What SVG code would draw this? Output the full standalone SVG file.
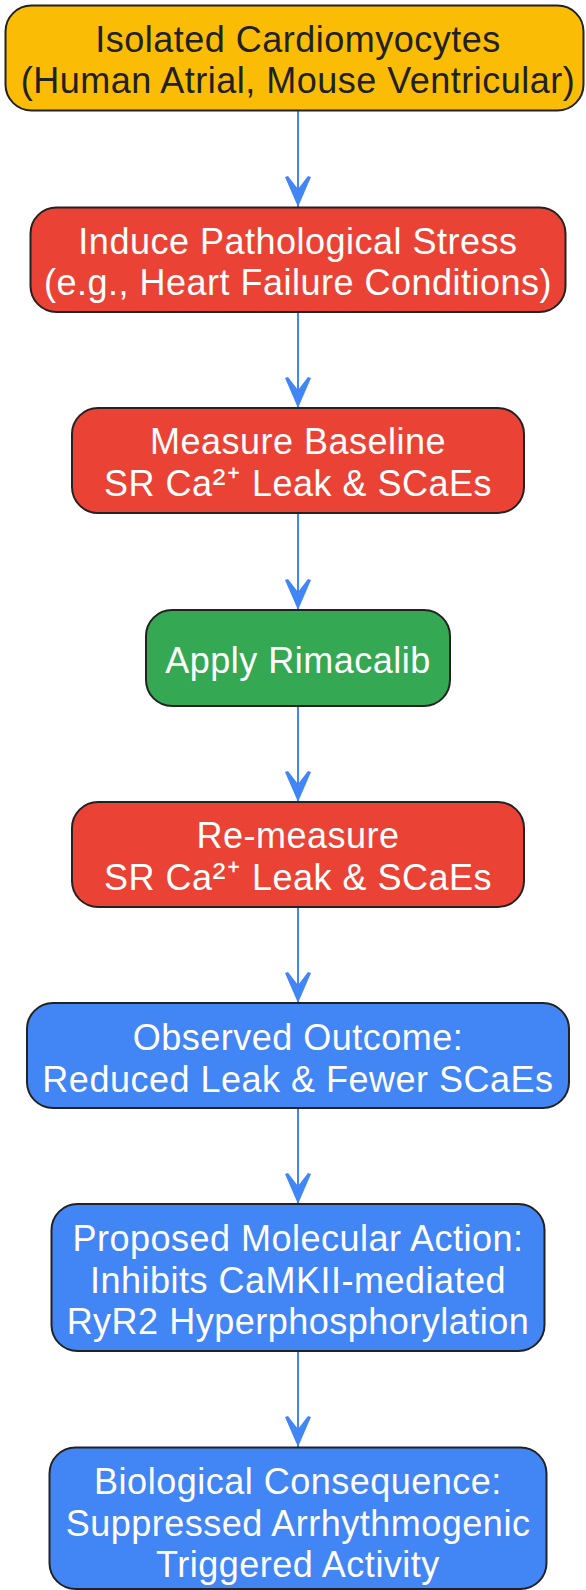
<svg xmlns="http://www.w3.org/2000/svg" width="586" height="1590" viewBox="0 0 586 1590">
<style>
  .node rect { stroke: #222222; stroke-width: 2; }
  .yellow rect { fill: #FBBC05; }
  .red rect { fill: #EA4335; }
  .green rect { fill: #34A853; }
  .blue rect { fill: #4285F4; }
  .node text { font-family: "Liberation Sans", Arial, sans-serif; font-size: 36px; letter-spacing: 0.5px; text-anchor: middle; fill: #FFFFFF; }
  .yellow text { fill: #202124; }
  .sup { font-size: 39px; letter-spacing: 1.5px; }
  .edge { stroke: #4285F4; stroke-width: 2; fill: none; }
</style>
<defs>
  <marker id="arrow" markerUnits="userSpaceOnUse" viewBox="-32 -14 33 28" refX="0" refY="0" markerWidth="33" markerHeight="28" orient="auto">
    <path d="M0,0 L-30,-13 L-31,-10 L-18,0 L-31,10 L-30,13 Z" fill="#4285F4"/>
  </marker>
</defs>
<rect width="586" height="1590" fill="#FFFFFF"/>
<g id="connectors">
  <path class="edge" d="M298,111 L298,207" marker-end="url(#arrow)"/>
  <path class="edge" d="M298,312 L298,408" marker-end="url(#arrow)"/>
  <path class="edge" d="M298,513 L298,610" marker-end="url(#arrow)"/>
  <path class="edge" d="M298,706 L298,802" marker-end="url(#arrow)"/>
  <path class="edge" d="M298,907 L298,1003" marker-end="url(#arrow)"/>
  <path class="edge" d="M298,1108 L298,1204" marker-end="url(#arrow)"/>
  <path class="edge" d="M298,1351 L298,1447" marker-end="url(#arrow)"/>
</g>
<g id="node1" class="node yellow">
  <rect x="5.5" y="5.5" width="578" height="105" rx="26" ry="26"/>
  <text x="298" y="51.5">Isolated Cardiomyocytes</text>
  <text x="298" y="93">(Human Atrial, Mouse Ventricular)</text>
</g>
<g id="node2" class="node red">
  <rect x="30.5" y="207.5" width="535" height="104.5" rx="26" ry="26"/>
  <text x="298" y="253.5">Induce Pathological Stress</text>
  <text x="298" y="294.5">(e.g., Heart Failure Conditions)</text>
</g>
<g id="node3" class="node red">
  <rect x="72" y="408" width="452" height="105" rx="26" ry="26"/>
  <text x="298" y="454">Measure Baseline</text>
  <text x="298" y="495.5">SR Ca<tspan class="sup">²⁺</tspan> Leak &amp; SCaEs</text>
</g>
<g id="node4" class="node green">
  <rect x="146" y="610" width="304" height="96" rx="26" ry="26"/>
  <text x="298" y="672.5">Apply Rimacalib</text>
</g>
<g id="node5" class="node red">
  <rect x="72" y="802" width="452" height="105" rx="26" ry="26"/>
  <text x="298" y="848">Re-measure</text>
  <text x="298" y="889.5">SR Ca<tspan class="sup">²⁺</tspan> Leak &amp; SCaEs</text>
</g>
<g id="node6" class="node blue">
  <rect x="27" y="1003" width="542" height="105" rx="26" ry="26"/>
  <text x="298" y="1050">Observed Outcome:</text>
  <text x="298" y="1091.5">Reduced Leak &amp; Fewer SCaEs</text>
</g>
<g id="node7" class="node blue">
  <rect x="51.5" y="1204" width="493" height="147" rx="26" ry="26"/>
  <text x="298" y="1250.7">Proposed Molecular Action:</text>
  <text x="298" y="1292.5">Inhibits CaMKII-mediated</text>
  <text x="298" y="1334">RyR2 Hyperphosphorylation</text>
</g>
<g id="node8" class="node blue">
  <rect x="49.5" y="1447.5" width="497" height="141.5" rx="26" ry="26"/>
  <text x="298" y="1494.3">Biological Consequence:</text>
  <text x="298" y="1536">Suppressed Arrhythmogenic</text>
  <text x="298" y="1577">Triggered Activity</text>
</g>
</svg>
